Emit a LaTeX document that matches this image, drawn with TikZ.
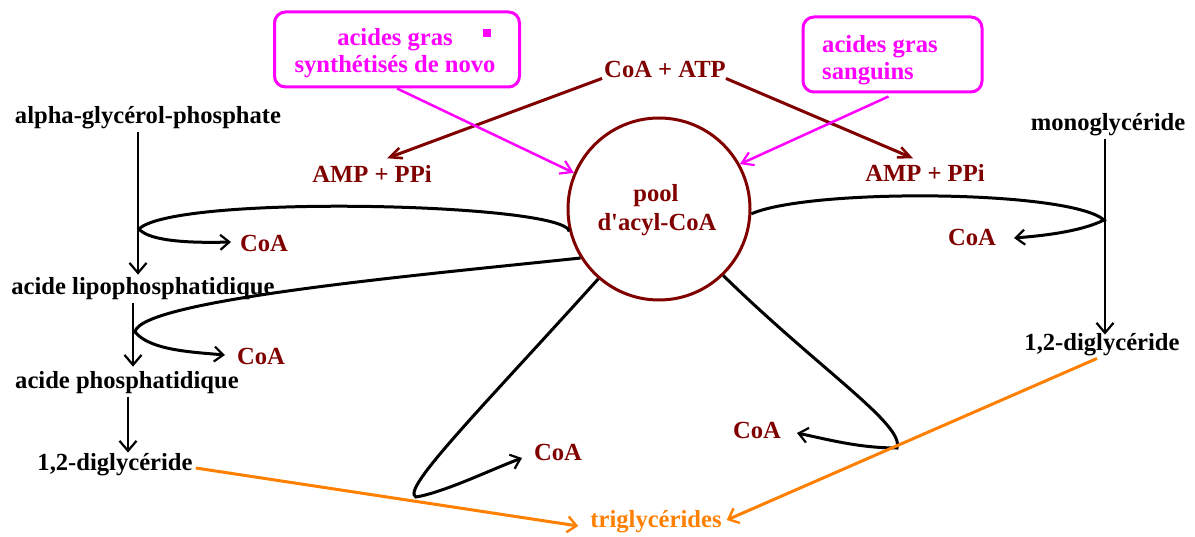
\documentclass[tikz,border=0pt]{standalone}
\usepackage{fontspec}
\setmainfont{Liberation Serif}[Ligatures=TeXOff]
\usetikzlibrary{arrows.meta}
\definecolor{maroon}{RGB}{128,0,0}
\definecolor{mag}{RGB}{255,0,255}
\definecolor{orng}{RGB}{255,128,0}

\begin{document}
\begin{tikzpicture}[x=1pt,y=-1pt,
  lbl/.style={font=\fontsize{24.6}{29}\selectfont\bfseries, inner sep=0pt},
  blk/.style={lbl,text=black},
  brn/.style={lbl,text=maroon},
  mgt/.style={lbl,text=mag},
  org/.style={lbl,text=orng},
  barb/.style={-{Straight Barb[length=9pt,width=15pt,line width=2.2pt]}},
  blkline/.style={draw=black,line width=3pt,barb},
  vline/.style={draw=black,line width=2.5pt,-{Straight Barb[length=10pt,width=17pt,line width=2.2pt]}},
  brnline/.style={draw=maroon,line width=3pt,-{Straight Barb[length=12pt,width=11pt,line width=2.6pt]}},
  mgtline/.style={draw=mag,line width=2.5pt,-{Straight Barb[length=11pt,width=14pt,line width=2.2pt]}},
  orgline/.style={draw=orng,line width=3pt,-{Straight Barb[length=9pt,width=16pt,line width=2.4pt]}},
  magbox/.style={draw=mag,line width=3pt,rounded corners=11pt,inner sep=0pt}
]
\useasboundingbox (0,0) rectangle (1195,537);

% central pool
\node[circle,draw=maroon,line width=3pt,minimum size=182pt,inner sep=0pt] (pool) at (659,209) {};
\node[brn] (pooltxt) at (656,196) {pool};
\node[brn] (acyltxt) at (657,225) {d'acyl-CoA};

% fatty acid sources
\node[magbox,minimum width=245pt,minimum height=75pt] (src1) at (397,49.5) {};
\node[mgt,align=center] (src1txt) at (395,53) {acides gras\\[-2pt]synthétisés de novo};
\node[fill=mag,minimum size=8pt,inner sep=0pt] (dot) at (487,33) {};
\node[magbox,minimum width=179pt,minimum height=75pt] (src2) at (892.5,54.5) {};
\node[mgt,align=left,anchor=west] (src2txt) at (822,60) {acides gras\\[-2pt]sanguins};

% activation
\node[brn] (coatp) at (665,69) {CoA + ATP};
\node[brn] (ampl) at (372,174) {AMP + PPi};
\node[brn] (ampr) at (925,173) {AMP + PPi};

% left pathway
\node[blk] (agp) at (148,118) {alpha-glycérol-phosphate};
\node[blk] (lipo) at (143,289) {acide lipophosphatidique};
\node[blk] (phos) at (127,383) {acide phosphatidique};
\node[blk] (dgl) at (115,465) {1,2-diglycéride};
\node[brn] (coa1) at (264,243) {CoA};
\node[brn] (coa2) at (261,356) {CoA};

% right pathway
\node[blk] (mono) at (1108,125) {monoglycéride};
\node[blk] (dgr) at (1102,345) {1,2-diglycéride};
\node[brn] (coa3) at (972,237) {CoA};

% bottom
\node[org] (tg) at (656,522) {triglycérides};
\node[brn] (coa4) at (558,452) {CoA};
\node[brn] (coa5) at (757,430) {CoA};

% loop tips and arrow ends
\coordinate (t1) at (139,229);
\coordinate (t2) at (135,332);
\coordinate (t3) at (416,497);
\coordinate (t4) at (897,448);
\coordinate (t5) at (1104,220);
\coordinate (e1) at (231,242);
\coordinate (e2) at (225,355);
\coordinate (e3) at (522,458);
\coordinate (e4) at (797,433);
\coordinate (e5) at (1014,238);

% vertical reactions
\draw[vline] ([xshift=-10pt,yshift=-3pt]agp.south) -- ([xshift=-5pt,yshift=3pt]lipo.north);
\draw[vline] ([xshift=-10pt,yshift=-3pt]lipo.south) -- ([xshift=6pt,yshift=5pt]phos.north);
\draw[vline] ([xshift=1pt,yshift=-3pt]phos.south) -- ([xshift=13pt,yshift=1pt]dgl.north);
\draw[vline] ([xshift=-3pt,yshift=-3pt]mono.south) -- ([xshift=3pt,yshift=-1pt]dgr.north);

% acyl transfers
\draw[blkline] (pool.194) .. controls (565,203) and (175,194) .. (t1)
  .. controls (150,242) and (195,243) .. (e1);
\draw[blkline] (pool.212) .. controls (420,275) and (140,300) .. (t2)
  .. controls (150,350) and (190,352) .. (e2);
\draw[blkline] (pool.229) .. controls (480,410) and (400,490) .. (t3)
  .. controls (445,492) and (490,470) .. (e3);
\draw[blkline] (pool.314) .. controls (820,370) and (905,425) .. (t4)
  .. controls (860,448) and (830,440) .. (e4);
\draw[blkline] (pool.357) .. controls (810,188) and (1070,190) .. (t5)
  .. controls (1080,232) and (1040,236) .. (e5);

% ATP activation
\draw[brnline] ([xshift=-2pt,yshift=-1pt]coatp.south west) -- ([xshift=15pt,yshift=7pt]ampl.north);
\draw[brnline] ([yshift=-1pt]coatp.south east) -- ([xshift=-12pt,yshift=6pt]ampr.north);

% fatty acid inputs
\draw[mgtline] (src1.south) -- (pool.157);
\draw[mgtline] ([xshift=-4pt,yshift=-3pt]src2.south) -- (pool.29);

% esterification to triglycerides
\draw[orgline] ([xshift=3pt,yshift=-3pt]dgl.east) -- ([xshift=-12pt,yshift=-4pt]tg.west);
\draw[orgline] ([xshift=-5pt,yshift=-2pt]dgr.south) -- ([xshift=5pt,yshift=2pt]tg.east);
\end{tikzpicture}
\end{document}
